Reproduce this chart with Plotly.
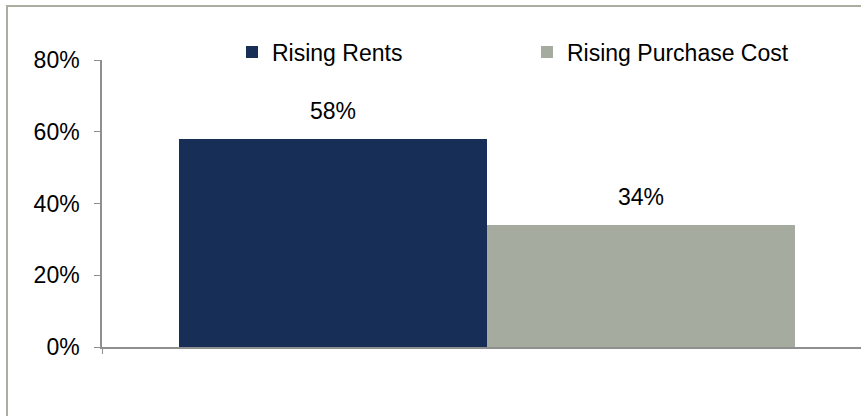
import plotly.graph_objects as go

categories = [""]
series_names = ["Rising Rents", "Rising Purchase Cost"]
rents = [0.58]
purchase = [0.34]
colors = ["#172e57", "#a6aba0"]
y_ticks = [0, 0.2, 0.4, 0.6, 0.8]

W, H = 861, 416
L, R, T, B = 102, 0, 60, 416 - 347
pw = W - L - R
ph = H - T - B

fig = go.Figure()
for name, vals, col in zip(series_names, [rents, purchase], colors):
    fig.add_trace(go.Bar(
        x=categories, y=vals, name=name,
        marker=dict(color=col, line=dict(width=0)),
        cliponaxis=False,
    ))

# data labels above each bar (bar centres at -0.2 and +0.2 of the category slot)
for offs, vals in zip([-0.2, 0.2], [rents, purchase]):
    for i, v in enumerate(vals):
        fig.add_annotation(x=i + offs, y=v, text=f"{v:.0%}", showarrow=False,
                           yanchor="bottom", yshift=13,
                           font=dict(size=23, color="#000000"))

# outer chart border (cropped: only left and top visible)
bx0 = (7 - L) / pw
by1 = (ph - (6 - T)) / ph
fig.add_shape(type="rect", xref="paper", yref="paper",
              x0=bx0, x1=1.5, y0=-0.6, y1=by1,
              line=dict(color="#a9ae9f", width=2), layer="below")

fig.update_layout(
    width=W, height=H,
    margin=dict(l=L, r=R, t=T, b=B),
    barmode="group", bargap=0.2, bargroupgap=0,
    plot_bgcolor="white", paper_bgcolor="white",
    font=dict(family="Liberation Sans, Arial", size=23, color="#000000"),
    showlegend=True,
    legend=dict(orientation="h", x=(232 - L) / pw, xanchor="left",
                y=(ph - (52 - T)) / ph, yanchor="middle",
                entrywidth=250, entrywidthmode="pixels",
                font=dict(size=23), bgcolor="rgba(0,0,0,0)",
                itemsizing="constant"),
    xaxis=dict(range=[-0.5, 0.5 - 11 / 770], showline=True, linecolor="#8f8f8f",
               linewidth=1.5, ticks="outside", tickson="boundaries", ticklen=5,
               tickcolor="#8f8f8f", showticklabels=False, showgrid=False,
               zeroline=False, fixedrange=True),
    yaxis=dict(range=[0, 0.8], tickvals=y_ticks, tickformat=".0%",
               showline=True, linecolor="#8f8f8f", linewidth=1.5,
               ticks="outside", ticklen=6, tickcolor="#8f8f8f",
               ticklabelstandoff=10, showgrid=False, zeroline=False,
               tickfont=dict(size=23)),
)

fig.write_html("out.html", config={"displayModeBar": False},
               post_script="document.body.style.margin='0px';document.body.style.overflow='hidden';")
